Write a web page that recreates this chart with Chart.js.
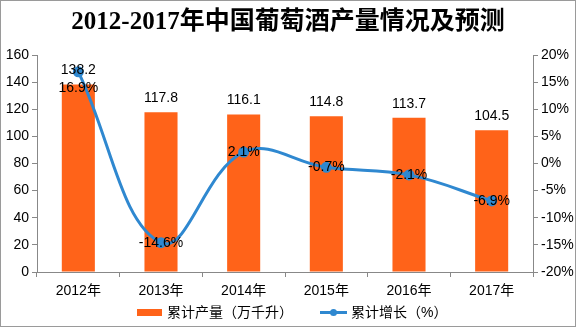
<!DOCTYPE html>
<html>
<head>
<meta charset="utf-8">
<script src="https://cdn.jsdelivr.net/npm/chart.js@4/dist/chart.umd.min.js"></script>
<style>
  html, body { margin: 0; padding: 0; background: #fff; }
  #wrap { width: 576px; height: 327px; position: relative; }
</style>
</head>
<body>
<div id="wrap"><canvas id="c"></canvas></div>
<script>
const titleText = '2012-2017年中国葡萄酒产量情况及预测';
const categories = ['2012年', '2013年', '2014年', '2015年', '2016年', '2017年'];
const production = [138.2, 117.8, 116.1, 114.8, 113.7, 104.5];
const growth = [16.9, -14.6, 2.1, -0.7, -2.1, -6.9];
const productionLabels = ['138.2', '117.8', '116.1', '114.8', '113.7', '104.5'];
const growthLabels = ['16.9%', '-14.6%', '2.1%', '-0.7%', '-2.1%', '-6.9%'];
const seriesNames = ['累计产量（万千升）', '累计增长（%）'];
const leftRange = [0, 160, 20];
const rightRange = [-20, 20, 5];

const BAR = '#FF6319';
const LINE = '#2F88D0';
const AXIS = '#888888';
const FONT = '"Liberation Sans", "Noto Sans CJK SC", sans-serif';

const extras = {
  id: 'extras',
  afterDatasetsDraw(chart) {
    const ctx = chart.ctx;
    ctx.save();
    ctx.font = '14px ' + FONT;
    ctx.fillStyle = '#000';
    ctx.textAlign = 'center';
    ctx.textBaseline = 'middle';
    const barMeta = chart.getDatasetMeta(0);
    barMeta.data.forEach((el, i) => {
      ctx.fillText(productionLabels[i], el.x, el.y - 14);
    });
    const lineMeta = chart.getDatasetMeta(1);
    lineMeta.data.forEach((el, i) => {
      const dy = i === 0 ? 16 : 0;
      ctx.fillText(growthLabels[i], el.x, el.y + dy);
    });
    ctx.restore();
  },
  afterDraw(chart) {
    const ctx = chart.ctx;
    ctx.save();
    // title
    ctx.font = 'bold 25px "Liberation Serif", "Noto Sans CJK SC", serif';
    ctx.fillStyle = '#000';
    ctx.textAlign = 'center';
    ctx.textBaseline = 'middle';
    ctx.fillText(titleText, 288, 23);
    // legend
    ctx.font = '14px ' + FONT;
    ctx.textAlign = 'left';
    ctx.fillStyle = BAR;
    ctx.fillRect(137, 309, 25, 7);
    ctx.fillStyle = '#000';
    ctx.fillText(seriesNames[0], 167, 313);
    ctx.strokeStyle = LINE;
    ctx.lineWidth = 3;
    ctx.beginPath();
    ctx.moveTo(320, 312.5);
    ctx.lineTo(347, 312.5);
    ctx.stroke();
    ctx.fillStyle = LINE;
    ctx.beginPath();
    ctx.arc(333.5, 312.5, 3.5, 0, Math.PI * 2);
    ctx.fill();
    ctx.fillStyle = '#000';
    ctx.fillText(seriesNames[1], 351, 313);
    // frame
    ctx.strokeStyle = '#9a9a9a';
    ctx.lineWidth = 1;
    ctx.strokeRect(0.5, 0.5, 575, 326);
    ctx.restore();
  }
};

new Chart(document.getElementById('c'), {
  data: {
    labels: categories,
    datasets: [
      {
        type: 'bar',
        label: seriesNames[0],
        data: production,
        backgroundColor: BAR,
        yAxisID: 'y',
        barPercentage: 0.4,
        categoryPercentage: 1.0,
        order: 2
      },
      {
        type: 'line',
        label: seriesNames[1],
        data: growth,
        borderColor: LINE,
        backgroundColor: LINE,
        borderWidth: 3,
        pointRadius: 4,
        pointBackgroundColor: LINE,
        pointBorderColor: LINE,
        tension: 0.4,
        yAxisID: 'y1',
        order: 1
      }
    ]
  },
  options: {
    responsive: true,
    maintainAspectRatio: false,
    animation: false,
    layout: { padding: { top: 55, left: 0, right: 0, bottom: 0 } },
    plugins: {
      legend: { display: false },
      title: { display: false },
      tooltip: { enabled: false }
    },
    scales: {
      x: {
        offset: true,
        grid: { display: true, offset: true, drawOnChartArea: false, drawTicks: true, tickLength: 5, color: AXIS },
        border: { color: AXIS },
        ticks: { color: '#000', font: { family: FONT, size: 14 }, padding: 6, maxRotation: 0 },
        afterFit(s) { s.height = 55; }
      },
      y: {
        position: 'left',
        min: leftRange[0], max: leftRange[1],
        ticks: { stepSize: leftRange[2], color: '#000', font: { family: FONT, size: 14 }, padding: 3 },
        grid: { display: true, drawOnChartArea: false, drawTicks: true, tickLength: 5, color: AXIS },
        border: { color: AXIS },
        afterFit(s) { s.width = 37; }
      },
      y1: {
        position: 'right',
        min: rightRange[0], max: rightRange[1],
        ticks: { stepSize: rightRange[2], color: '#000', font: { family: FONT, size: 14 }, padding: 3,
                 callback: v => v + '%' },
        grid: { display: true, drawOnChartArea: false, drawTicks: true, tickLength: 5, color: AXIS },
        border: { color: AXIS },
        afterFit(s) { s.width = 43; }
      }
    }
  },
  plugins: [extras]
});
</script>
</body>
</html>
